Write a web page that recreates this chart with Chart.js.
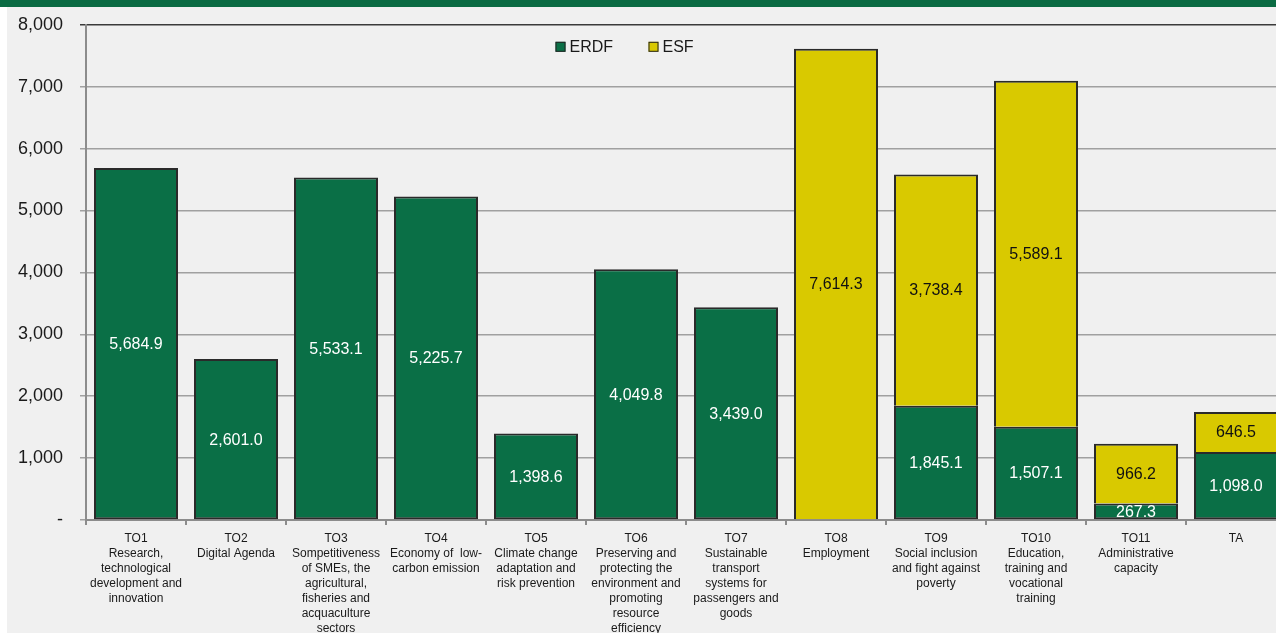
<!DOCTYPE html>
<html>
<head>
<meta charset="utf-8">
<script src="https://cdn.jsdelivr.net/npm/chart.js@4.4.1/dist/chart.umd.min.js"></script>
<style>
  html, body { margin: 0; padding: 0; background: #ffffff; overflow: hidden; width: 1276px; height: 633px; }
  #band { position: absolute; left: 0; top: 0; width: 1276px; height: 7px; background: #0a6b43; }
  #panel { position: absolute; left: 7px; top: 7px; width: 1269px; height: 626px; background: #f0f0f0; overflow: hidden; }
  #chart { position: absolute; left: 0; top: -10px; }
</style>
</head>
<body>
<div id="band"></div>
<div id="panel"><canvas id="chart" width="1279" height="636"></canvas></div>
<script>
// Thematic objectives (multi-line axis labels)
const categories = [
  ["TO1", "Research,", "technological", "development and", "innovation"],
  ["TO2", "Digital Agenda"],
  ["TO3", "Sompetitiveness", "of SMEs, the", "agricultural,", "fisheries and", "acquaculture", "sectors"],
  ["TO4", "Economy of  low-", "carbon emission"],
  ["TO5", "Climate change", "adaptation and", "risk prevention"],
  ["TO6", "Preserving and", "protecting the", "environment and", "promoting", "resource", "efficiency"],
  ["TO7", "Sustainable", "transport", "systems for", "passengers and", "goods"],
  ["TO8", "Employment"],
  ["TO9", "Social inclusion", "and fight against", "poverty"],
  ["TO10", "Education,", "training and", "vocational", "training"],
  ["TO11", "Administrative", "capacity"],
  ["TA"]
];

// Allocations per fund
const erdfValues = [5684.9, 2601.0, 5533.1, 5225.7, 1398.6, 4049.8, 3439.0, 0, 1845.1, 1507.1, 267.3, 1098.0];
const esfValues  = [0, 0, 0, 0, 0, 0, 0, 7614.3, 3738.4, 5589.1, 966.2, 646.5];

// Value axis
const yTicks = [0, 1000, 2000, 3000, 4000, 5000, 6000, 7000, 8000];

const GREEN = '#0a6f46';
const YELLOW = '#d9c900';
const FONT = '"Liberation Sans", Arial, sans-serif';

const fmt = v => v.toLocaleString('en-US', { minimumFractionDigits: 1, maximumFractionDigits: 1 });

// Segment values written in the middle of each stacked piece
const valueLabels = {
  id: 'valueLabels',
  afterDatasetsDraw(chart) {
    const ctx = chart.ctx;
    ctx.save();
    ctx.font = '16px ' + FONT;
    ctx.textAlign = 'center';
    ctx.textBaseline = 'middle';
    chart.data.datasets.forEach((ds, di) => {
      const meta = chart.getDatasetMeta(di);
      meta.data.forEach((bar, i) => {
        const v = ds.data[i];
        if (!v) return;
        const p = bar.getProps(['x', 'y', 'base'], true);
        ctx.fillStyle = ds.labelColor;
        ctx.fillText(fmt(v), p.x, (p.y + p.base) / 2 + 1);
      });
    });
    ctx.restore();
  }
};

// Legend drawn inside the plot area
const innerLegend = {
  id: 'innerLegend',
  afterDraw(chart) {
    const ctx = chart.ctx;
    ctx.save();
    ctx.font = '16px ' + FONT;
    ctx.textBaseline = 'middle';
    const xs = [548.5, 641.5];
    const y = chart.chartArea.top + 22;
    chart.data.datasets.forEach((ds, di) => {
      const x = xs[di];
      ctx.fillStyle = ds.backgroundColor;
      ctx.fillRect(x, y - 5, 10, 10);
      ctx.strokeStyle = '#222';
      ctx.lineWidth = 1;
      ctx.strokeRect(x + 0.5, y - 4.5, 9, 9);
      ctx.fillStyle = '#1a1a1a';
      ctx.fillText(ds.label, x + 14, y + 1);
    });
    ctx.restore();
  }
};

new Chart(document.getElementById('chart'), {
  type: 'bar',
  data: {
    labels: categories,
    datasets: [
      { label: 'ERDF', data: erdfValues, backgroundColor: GREEN, borderColor: '#2a2a2a', borderWidth: 2, borderSkipped: false, labelColor: '#ffffff' },
      { label: 'ESF', data: esfValues, backgroundColor: YELLOW, borderColor: '#2a2a2a', borderWidth: 2, borderSkipped: 'start', labelColor: '#111111' }
    ]
  },
  options: {
    responsive: false,
    animation: false,
    devicePixelRatio: 1,
    layout: { padding: { top: 8, right: 0, left: 0, bottom: 0 } },
    datasets: { bar: { categoryPercentage: 1.0, barPercentage: 0.84 } },
    plugins: { legend: { display: false }, tooltip: { enabled: false } },
    scales: {
      x: {
        stacked: true,
        afterFit(scale) { scale.height = 113; },
        grid: { drawOnChartArea: false, drawTicks: true, tickLength: 5, color: '#8c8c8c', lineWidth: 2 },
        border: { color: '#8c8c8c', width: 2 },
        ticks: {
          maxRotation: 0, autoSkip: false, padding: 6, color: '#1a1a1a',
          font: { family: FONT, size: 12, lineHeight: 1.25 }
        }
      },
      y: {
        stacked: true,
        min: 0, max: 8000,
        afterFit(scale) { scale.width = 79; },
        afterBuildTicks(scale) { scale.ticks = yTicks.map(v => ({ value: v })); },
        grid: {
          tickLength: 6, lineWidth: 1.5,
          color: c => (c.tick && c.tick.value === 8000) ? '#3a3a3a' : '#a0a0a0'
        },
        border: { color: '#8c8c8c', width: 2 },
        ticks: {
          padding: 17, color: '#1a1a1a',
          font: { family: FONT, size: 18 },
          callback: v => v === 0 ? '-' : v.toLocaleString('en-US')
        }
      }
    }
  },
  plugins: [valueLabels, innerLegend]
});
</script>
</body>
</html>
